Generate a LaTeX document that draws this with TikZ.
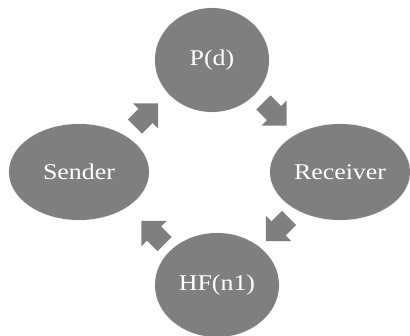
\documentclass[tikz,border=0pt]{standalone}
\usepackage{fontspec}
\setmainfont{Liberation Serif}
\newfontfamily\labelfont[FakeStretch=1.15]{Liberation Serif}
\usetikzlibrary{shapes.geometric,calc}
\definecolor{fillgray}{RGB}{127,127,127}
\definecolor{halo}{RGB}{242,242,242}
\tikzset{
  bubble/.style={ellipse, fill=fillgray, inner sep=0pt, text=white,
    font=\labelfont\fontsize{22.5}{24}\selectfont,
    preaction={draw=halo, line width=1.2pt, transform shape}},
  blockarrow/.pic={\fill[fillgray] (-15,-10) -- (0,-10) -- (0,-18) -- (18,0) -- (0,18) -- (0,10) -- (-15,10) -- cycle;}
}
\begin{document}
\begin{tikzpicture}[x=1pt,y=1pt]
\useasboundingbox (0,0) rectangle (410,335);
\clip (0,0) rectangle (410,335);
\node[bubble, minimum width=114pt, minimum height=104pt] (pd) at (212,275) {P(d)};
\node[bubble, minimum width=140pt, minimum height=96pt] (recv) at (340,163) {Receiver};
\node[bubble, minimum width=124pt, minimum height=104pt] (hf) at (217,50) {HF(n1)};
\node[bubble, minimum width=140pt, minimum height=96pt] (sender) at (79,163) {Sender};
\coordinate (a1) at ($(sender)!0.5!(pd)$);
\coordinate (a2) at ($(pd)!0.5!(recv)+(-2,3)$);
\coordinate (a3) at ($(recv)!0.5!(hf)$);
\coordinate (a4) at ($(hf)!0.5!(sender)+(6,-5)$);
\pic[rotate=45] at (a1) {blockarrow};
\pic[rotate=-45] at (a2) {blockarrow};
\pic[rotate=-135] at (a3) {blockarrow};
\pic[rotate=135] at (a4) {blockarrow};
\end{tikzpicture}
\end{document}
